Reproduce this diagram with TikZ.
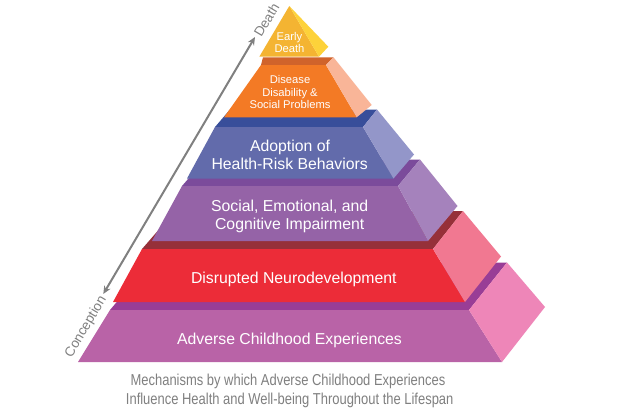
\documentclass[tikz,border=0pt]{standalone}
\usepackage{fontspec}
\setmainfont{Liberation Sans}
\newfontfamily\narrowfont[FakeStretch=0.82]{Liberation Sans}
\usetikzlibrary{arrows.meta}
\definecolor{aceF}{HTML}{B963A7}
\definecolor{aceS}{HTML}{EE86B8}
\definecolor{aceT}{HTML}{993D96}
\definecolor{redF}{HTML}{EC2C38}
\definecolor{redS}{HTML}{F17891}
\definecolor{redT}{HTML}{963039}
\definecolor{purF}{HTML}{9563A7}
\definecolor{purS}{HTML}{A582BC}
\definecolor{purT}{HTML}{7B4B9B}
\definecolor{bluF}{HTML}{626BAB}
\definecolor{bluS}{HTML}{9396C9}
\definecolor{bluT}{HTML}{384E9A}
\definecolor{ornF}{HTML}{F37A25}
\definecolor{ornS}{HTML}{F9B598}
\definecolor{ornT}{HTML}{D0632B}
\definecolor{yelF}{HTML}{F4B432}
\definecolor{yelS}{HTML}{FDD23A}
\definecolor{capgray}{HTML}{808080}
\tikzset{
  bigtxt/.style={text=white, font=\fontsize{15.8}{17.5}\selectfont, anchor=base, inner sep=0pt},
  smalltxt/.style={text=white, font=\fontsize{11.2}{12.5}\selectfont, anchor=base, inner sep=0pt},
  captxt/.style={text=capgray, font=\narrowfont\fontsize{15.8}{19}\selectfont, anchor=base, inner sep=0pt},
  axlbl/.style={text=capgray, font=\fontsize{13.5}{15}\selectfont, inner sep=0pt, rotate=59.3},
  axarrow/.style={draw=capgray, line width=2pt, {Stealth[length=8pt,width=7pt]}-{Stealth[length=8pt,width=7pt]}}
}
\begin{document}
\begin{tikzpicture}[x=1pt,y=-1pt]
\useasboundingbox[fill=white] (0,0) rectangle (620,410);
% Layer 1: Adverse Childhood Experiences
\fill[aceT] (110,310) -- (469,310) -- (507,262.5) -- (150,262.5) -- cycle;
\fill[aceF] (78,362) -- (502,362) -- (469,310) -- (110,310) -- cycle;
\fill[aceS] (469,310) -- (507,262.5) -- (545,307) -- (502,362) -- cycle;
% Layer 2: Disrupted Neurodevelopment
\fill[redT] (142,249) -- (433,249) -- (463,211) -- (175,211) -- cycle;
\fill[redF] (113,302) -- (465,302) -- (433,249) -- (142,249) -- cycle;
\fill[redS] (433,249) -- (463,211) -- (501,256.5) -- (465,302) -- cycle;
% Layer 3: Social, Emotional, Cognitive
\fill[purT] (182,186) -- (398,186) -- (420,159.5) -- (205,159.5) -- cycle;
\fill[purF] (152,241) -- (428,241) -- (398,186) -- (182,186) -- cycle;
\fill[purS] (398,186) -- (420,159.5) -- (457.5,206) -- (428,241) -- cycle;
% Layer 4: Health-risk behaviors
\fill[bluT] (215,127) -- (363,127) -- (377,109.5) -- (230,109.5) -- cycle;
\fill[bluF] (187,178.5) -- (393.5,178.5) -- (363,127) -- (215,127) -- cycle;
\fill[bluS] (363,127) -- (377,109.5) -- (414,154.5) -- (393.5,178.5) -- cycle;
% Layer 5: Disease
\fill[ornT] (261,65) -- (326,65) -- (333.5,57.3) -- (263,57.3) -- cycle;
\fill[ornF] (224,117.3) -- (356.7,117.3) -- (326,65) -- (261,65) -- cycle;
\fill[ornS] (326,65) -- (333.5,57.3) -- (371.7,105) -- (356.7,117.3) -- cycle;
% Layer 6: Early death
\fill[yelF] (289.3,6) -- (259.3,56.7) -- (319,56.7) -- cycle;
\fill[yelS] (289.3,6) -- (319,56.7) -- (328.3,46.7) -- cycle;
% texts
\node[bigtxt] (t1) at (289.5,344) {Adverse Childhood Experiences};
\node[bigtxt] (t2) at (293.8,283.3) {Disrupted Neurodevelopment};
\node[bigtxt] (t3a) at (289.7,211.7) {Social, Emotional, and};
\node[bigtxt] (t3b) at (289.7,229) {Cognitive Impairment};
\node[bigtxt] (t4a) at (290,151.7) {Adoption of};
\node[bigtxt] (t4b) at (289.7,169) {Health-Risk Behaviors};
\node[smalltxt] (t5a) at (290,83.5) {Disease};
\node[smalltxt] (t5b) at (290,96) {Disability \&};
\node[smalltxt] (t5c) at (290,108.5) {Social Problems};
\node[smalltxt] (t6a) at (289.5,40.5) {Early};
\node[smalltxt] (t6b) at (289.5,52) {Death};
% caption
\node[captxt] (c1) at (288,385.7) {Mechanisms by which Adverse Childhood Experiences};
\node[captxt] (c2) at (289.7,404.5) {Influence Health and Well-being Throughout the Lifespan};
% lifespan arrow
\coordinate (arrLo) at (103.3,294);
\coordinate (arrHi) at (255,37);
\draw[axarrow] (arrLo) -- (arrHi);
\node[axlbl] (death) at (266.5,20) {Death};
\node[axlbl] (concep) at (86,327) {Conception};
\end{tikzpicture}
\end{document}
